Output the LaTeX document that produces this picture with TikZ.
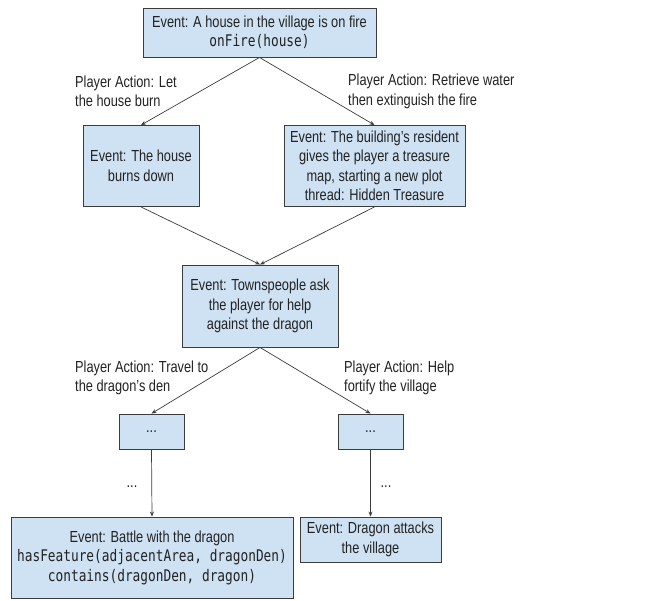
\documentclass[tikz,border=0pt]{standalone}
\usepackage{fontspec}
\setmainfont{Liberation Sans}[FakeStretch=0.8]
\setmonofont{DejaVu Sans Mono}[FakeStretch=0.8]
\usepackage{xcolor}
\usepackage{tikz}
\usetikzlibrary{arrows.meta, positioning}
\definecolor{eventblue}{HTML}{CFE2F3}
\definecolor{edgegray}{HTML}{3C3C3C}
\definecolor{textgray}{HTML}{222222}

\begin{document}
\begin{tikzpicture}[
    x=1pt, y=-1pt,
    event/.style={
        fill=eventblue,
        draw=edgegray,
        line width=0.9pt,
        inner sep=0pt,
        align=center,
        text=textgray,
        font=\fontsize{16}{19.5}\selectfont
    },
    action/.style={
        inner sep=0pt,
        anchor=west,
        align=left,
        text=textgray,
        font=\fontsize{16}{19.5}\selectfont
    },
    flow/.style={
        draw=edgegray,
        line width=0.7pt,
        -{Stealth[length=5pt, width=4pt]}
    }
]
\useasboundingbox (0,0) rectangle (652,600);

% events
\node[event, minimum width=233pt, minimum height=49pt] (fire) at (259.5,32.5)
{Event: A house in the village is on fire\\\texttt{onFire(house)}};
\node[event, minimum width=116pt, minimum height=81pt] (burn) at (141,166)
{Event: The house\\burns down};
\node[event, minimum width=181pt, minimum height=81pt] (resident) at (374.5,166)
{Event: The building's resident\\gives the player a treasure\\map, starting a new plot\\thread: Hidden Treasure};
\node[event, minimum width=156pt, minimum height=82pt] (towns) at (260,306)
{Event: Townspeople ask\\the player for help\\against the dragon};
\node[event, minimum width=65pt, minimum height=35pt] (dotsL) at (151.5,431.5) {...};
\node[event, minimum width=65pt, minimum height=35pt] (dotsR) at (370.5,431.5) {...};
\node[event, minimum width=282pt, minimum height=81pt] (battle) at (152,557.5)
{Event: Battle with the dragon\\\texttt{hasFeature(adjacentArea, dragonDen)}\\\texttt{contains(dragonDen, dragon)}};
\node[event, minimum width=141pt, minimum height=45pt] (attack) at (370.5,539.5)
{Event: Dragon attacks\\the village};

% player actions
\node[action] (letburn) at (75,91.5) {Player Action: Let\\the house burn};
\node[action] (water) at (348,91.5) {Player Action: Retrieve water\\then extinguish the fire};
\node[action] (travel) at (75,378) {Player Action: Travel to\\the dragon's den};
\node[action] (fortify) at (344,378) {Player Action: Help\\fortify the village};
\node[event, draw=none, fill=none] (skipL) at (132,487) {...};
\node[event, draw=none, fill=none] (skipR) at (386,487) {...};

% connectors
\draw[flow] (fire.south) -- (burn.north);
\draw[flow] (fire.south) -- (resident.north);
\draw[flow] (burn.south) -- (towns.north);
\draw[flow] (resident.south) -- (towns.north);
\draw[flow] (towns.south) -- (dotsL.north);
\draw[flow] (towns.south) -- (dotsR.north);
\draw[flow] (dotsL.south) -- (battle.north);
\draw[flow] (dotsR.south) -- (attack.north);
\end{tikzpicture}
\end{document}
